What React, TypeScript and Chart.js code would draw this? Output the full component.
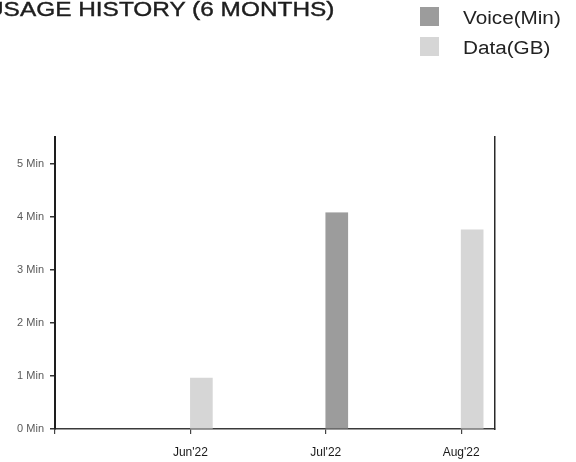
import React, { useEffect, useRef } from 'react';
import { Chart, registerables } from 'chart.js';

Chart.register(...registerables);

const TITLE = 'USAGE HISTORY (6 MONTHS)';
const MONTH_LABELS = ["Jun'22", "Jul'22", "Aug'22"];
const MONTH_POSITIONS = [1, 2, 3];
const VOICE_MIN = [0, 4.07, 0];
const DATA_GB = [0.96, 0, 3.75];
const SERIES_LABELS = ['Voice(Min)', 'Data(GB)'];
const SERIES_COLORS = ['#9c9c9c', '#d6d6d6'];
const Y_MAX = 5.5;
const X_MAX = 3.25;

const FONT = '"Liberation Sans", Arial, Helvetica, sans-serif';

export default function App() {
  const ref = useRef<HTMLCanvasElement | null>(null);

  useEffect(() => {
    if (!ref.current) return;
    const series = [VOICE_MIN, DATA_GB];
    const chart = new Chart(ref.current, {
      type: 'bar',
      data: {
        datasets: [
          { label: '', data: [], stack: 'offset', backgroundColor: 'rgba(0,0,0,0)' },
          ...series.map((vals, s) => ({
            label: SERIES_LABELS[s],
            data: MONTH_POSITIONS.map((x, i) => ({ x, y: vals[i] })),
            stack: 'usage',
            backgroundColor: SERIES_COLORS[s],
          })),
        ],
      },
      options: {
        responsive: false,
        animation: false,
        devicePixelRatio: 1,
        layout: { padding: { left: 0, top: 137, right: 81, bottom: 0 } },
        datasets: { bar: { barThickness: 22, borderWidth: 0 } },
        plugins: {
          legend: { display: false },
          title: { display: false },
          tooltip: { enabled: false },
        },
        scales: {
          x: {
            type: 'linear',
            min: 0,
            max: X_MAX,
            offset: false,
            grid: { offset: false, drawOnChartArea: false, drawTicks: true, tickLength: 5, color: '#444', lineWidth: 1.2 },
            border: { display: true, color: '#3a3a3a', width: 1.5 },
            ticks: {
              stepSize: 1,
              includeBounds: false,
              autoSkip: false,
              maxRotation: 0,
              padding: 11,
              color: '#1a1a1a',
              font: { family: FONT, size: 12 },
              callback: (v: any) => {
                const i = MONTH_POSITIONS.indexOf(Number(v));
                return i >= 0 ? MONTH_LABELS[i] : '';
              },
            },
            afterFit: (scale: any) => { scale.height = 33; },
          },
          y: {
            type: 'linear',
            min: 0,
            max: Y_MAX,
            stacked: true,
            grid: { drawOnChartArea: false, drawTicks: true, tickLength: 5, color: '#333', lineWidth: 1.5 },
            border: { display: true, color: '#1e1e1e', width: 2 },
            ticks: {
              stepSize: 1,
              includeBounds: false,
              padding: 6,
              color: '#5a5a5a',
              font: { family: FONT, size: 11 },
              callback: (v: any) => `${v} Min`,
            },
            afterFit: (scale: any) => { scale.width = 55; },
          },
          y2: {
            type: 'linear',
            position: 'right',
            display: true,
            grid: { display: false, drawTicks: false },
            ticks: { display: false },
            border: { display: true, color: '#2a2a2a', width: 1.5 },
            afterFit: (scale: any) => { scale.width = 0; },
          },
        },
      } as any,
    });
    return () => chart.destroy();
  }, []);

  return (
    <div
      style={{
        position: 'fixed',
        left: 0,
        top: 0,
        width: 576,
        height: 462,
        background: '#fff',
        overflow: 'hidden',
        fontFamily: FONT,
      }}
    >
      <canvas ref={ref} width={576} height={462} style={{ position: 'absolute', left: 0, top: 0, width: 576, height: 462 }} />
      <div
        style={{
          position: 'absolute',
          left: -14,
          top: -1,
          fontSize: 20,
          fontWeight: 400,
          lineHeight: '20px',
          color: '#1e1e1e',
          whiteSpace: 'nowrap',
          transform: 'scaleX(1.22)',
          transformOrigin: '0 0',
          WebkitTextStroke: '0.4px #1e1e1e',
        }}
      >
        {TITLE}
      </div>
      {SERIES_LABELS.map((label, i) => (
        <div
          key={label}
          style={{
            position: 'absolute',
            left: 420,
            top: 7 + i * 30,
            height: 19,
            display: 'flex',
            alignItems: 'center',
            whiteSpace: 'nowrap',
          }}
        >
          <span style={{ display: 'inline-block', width: 19, height: 19, background: SERIES_COLORS[i] }} />
          <span
            style={{
              marginLeft: 24,
              fontSize: 18,
              lineHeight: '19px',
              color: '#222',
              position: 'relative',
              top: 1.5,
              display: 'inline-block',
              transform: 'scaleX(1.15)',
              transformOrigin: '0 50%',
            }}
          >
            {label}
          </span>
        </div>
      ))}
    </div>
  );
}
